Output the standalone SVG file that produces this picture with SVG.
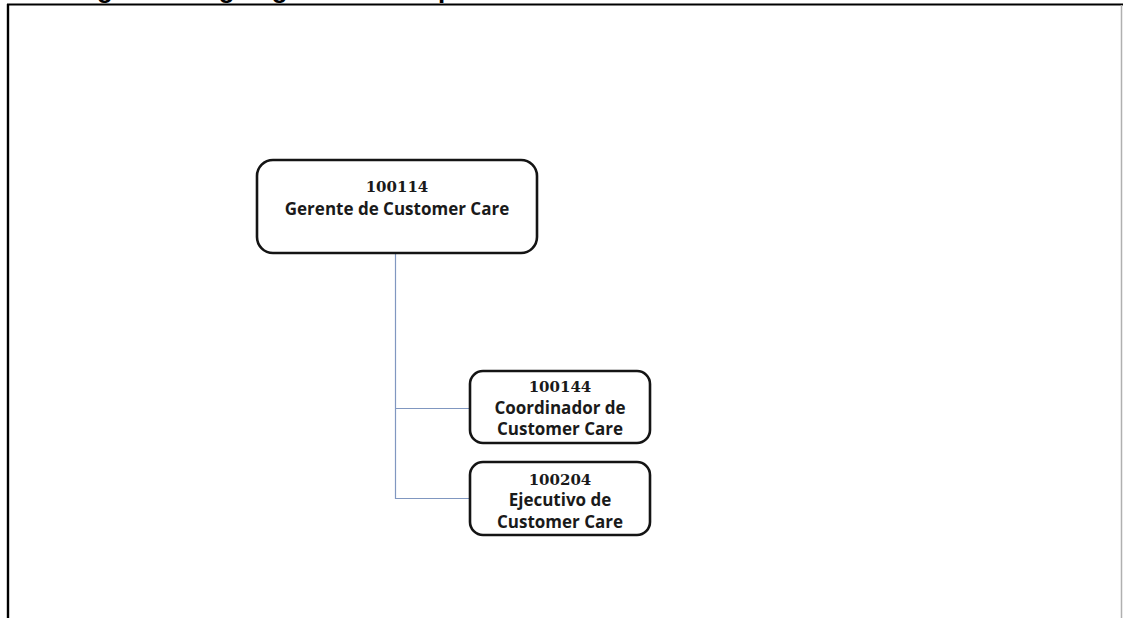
<svg xmlns="http://www.w3.org/2000/svg" width="1123" height="618" viewBox="0 0 1123 618">
  <style>
    .box { fill: #ffffff; stroke: #141414; stroke-width: 2.6; }
    .code { font-family: "DejaVu Serif", "Liberation Serif", serif; font-weight: bold; font-size: 15px; fill: #1a1a1a; text-anchor: middle; }
    .label { font-family: "Open Sans", "Liberation Sans", sans-serif; font-weight: bold; font-size: 17px; fill: #1a1a1a; text-anchor: middle; }
    .link { stroke: #8097c0; stroke-width: 1.2; fill: none; }
    .heading { font-family: "Liberation Sans", Arial, sans-serif; font-weight: bold; font-size: 25.8px; fill: #000; }
  </style>

  <rect x="0" y="0" width="1123" height="618" fill="#ffffff"/>

  <!-- page heading, mostly above the visible area -->
  <text class="heading" x="74" y="-2.5">Figura 1. Organigrama de los puestos</text>

  <!-- page frame -->
  <g id="frame">
    <line x1="7" y1="4.5" x2="1123" y2="4.5" stroke="#000" stroke-width="2"/>
    <line x1="8" y1="4" x2="8" y2="618" stroke="#000" stroke-width="2.4"/>
    <line x1="1121.5" y1="5" x2="1121.5" y2="618" stroke="#b0b0b0" stroke-width="1.5"/>
  </g>

  <!-- connectors -->
  <g id="connectors">
    <path class="link" d="M395.5 253 V498.5 H470"/>
    <path class="link" d="M395.5 408.5 H470"/>
  </g>

  <g id="node-100114">
    <rect class="box" x="257" y="160" width="280" height="93" rx="16" ry="16"/>
    <text class="code" x="397" y="192">100114</text>
    <text class="label" x="397" y="215">Gerente de Customer Care</text>
  </g>

  <g id="node-100144">
    <rect class="box" x="470" y="371" width="180" height="72" rx="13" ry="13"/>
    <text class="code" x="560" y="392">100144</text>
    <text class="label" x="560" y="414">Coordinador de</text>
    <text class="label" x="560" y="435">Customer Care</text>
  </g>

  <g id="node-100204">
    <rect class="box" x="470" y="462" width="180" height="73" rx="13" ry="13"/>
    <text class="code" x="560" y="485">100204</text>
    <text class="label" x="560" y="506">Ejecutivo de</text>
    <text class="label" x="560" y="528">Customer Care</text>
  </g>
</svg>
